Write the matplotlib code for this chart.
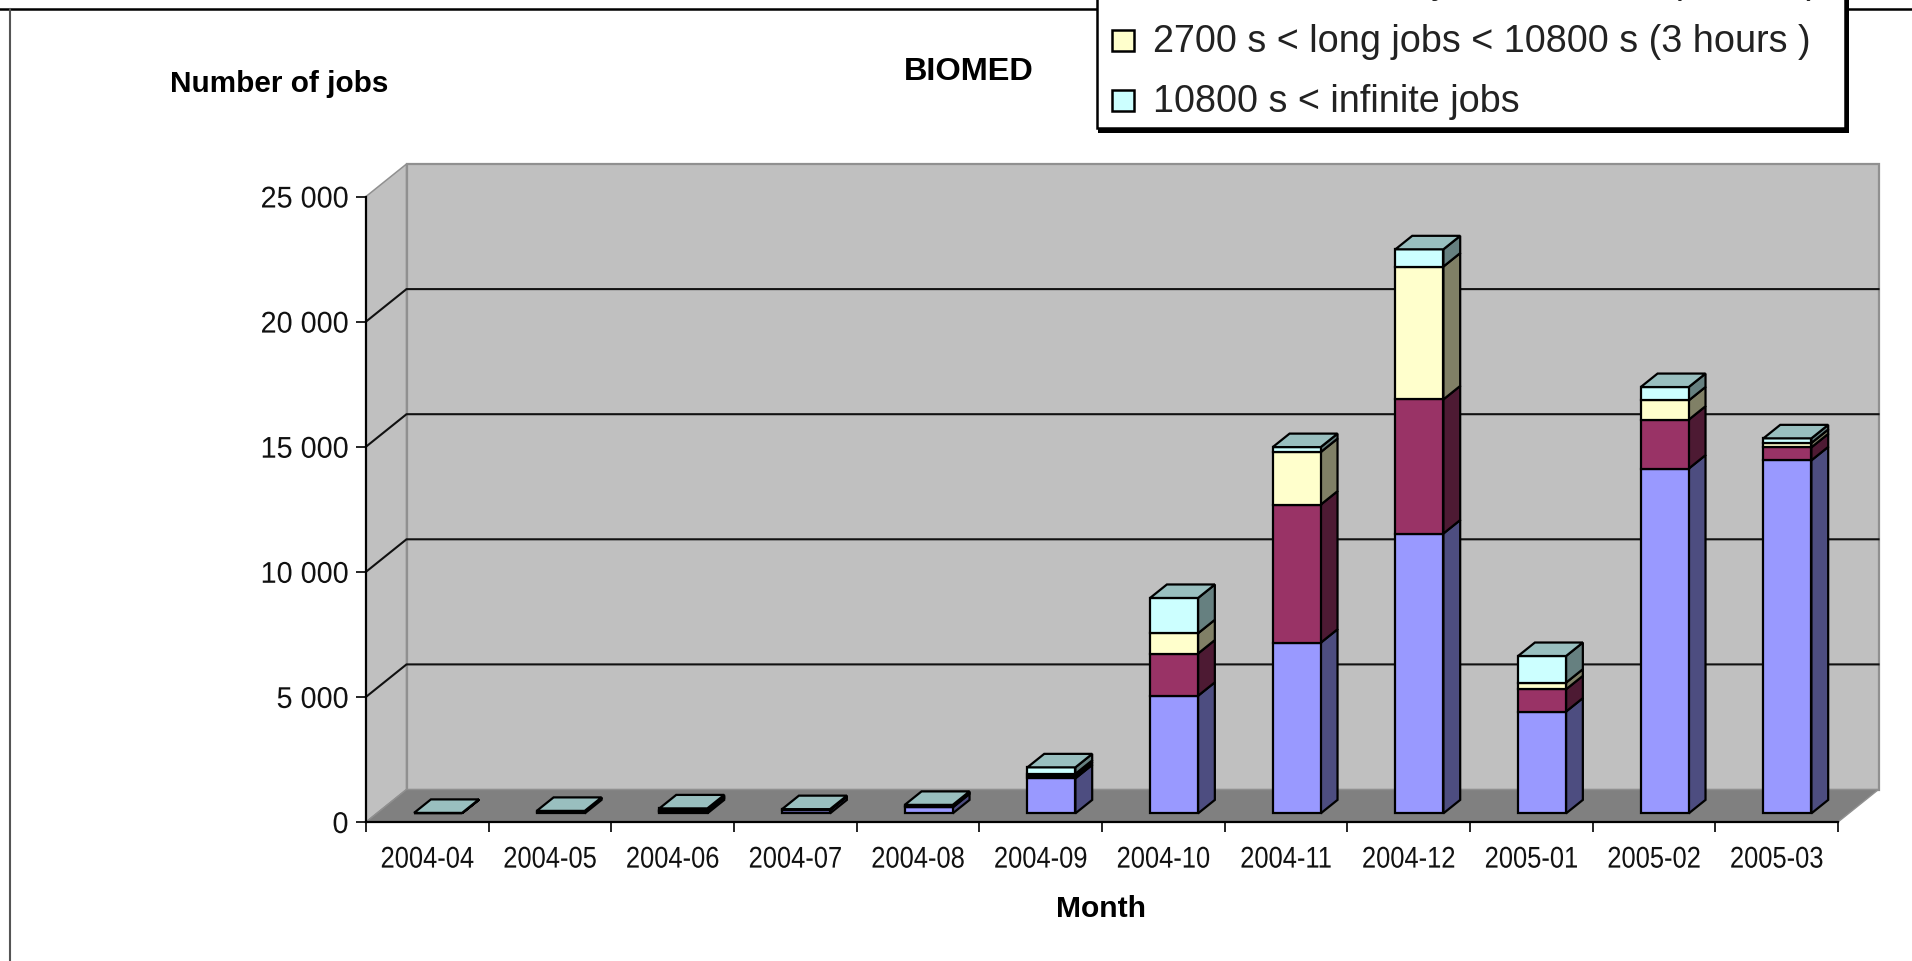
import matplotlib
matplotlib.use("Agg")
import matplotlib.pyplot as plt
from matplotlib.lines import Line2D
from matplotlib.patches import Polygon, Rectangle
from matplotlib.patheffects import AbstractPathEffect
from matplotlib.transforms import Affine2D, IdentityTransform

# Monthly job counts, by duration class
months = ["2004-04", "2004-05", "2004-06", "2004-07", "2004-08", "2004-09",
          "2004-10", "2004-11", "2004-12", "2005-01", "2005-02", "2005-03"]
short_jobs = [10, 60, 70, 130, 240, 1400, 4700, 6820, 11185, 4070, 13780, 14110]
medium_jobs = [5, 15, 40, 10, 30, 100, 1690, 5520, 5360, 890, 1955, 520]
long_jobs = [0, 10, 30, 10, 30, 80, 810, 2100, 5310, 266, 770, 175]
infinite_jobs = [5, 15, 60, 20, 40, 260, 1410, 200, 690, 1064, 535, 185]

y_ticks = [0, 5000, 10000, 15000, 20000, 25000]
y_tick_labels = ["0", "5 000", "10 000", "15 000", "20 000", "25 000"]
legend_rows = [("900 s < medium jobs < 2700 s (45 min )", "#993366"),
               ("2700 s < long jobs < 10800 s (3 hours )", "#FFFFCC"),
               ("10800 s < infinite jobs", "#CCFFFF")]

series = [(short_jobs, "#9999FF", "#4D4D80"),
          (medium_jobs, "#993366", "#4D1A33"),
          (long_jobs, "#FFFFCC", "#808066"),
          (infinite_jobs, "#CCFFFF", "#668080")]

W, H = 1912, 962
DEPTH_X, DEPTH_Y = 40.5, 32.5      # pixel offset of the back wall
BAR_W, BAR_D0, BAR_D1 = 0.391, 0.265, 0.68
SANS = ["Liberation Sans", "DejaVu Sans"]


class HSqueeze(AbstractPathEffect):
    """Condense glyphs horizontally around a fixed display x position."""

    def __init__(self, anchor, factor):
        super().__init__()
        self.anchor, self.factor = anchor, factor

    def draw_path(self, renderer, gc, tpath, affine, rgbFace=None):
        squeeze = Affine2D().translate(-self.anchor, 0).scale(self.factor, 1).translate(self.anchor, 0)
        renderer.draw_path(gc, tpath, affine + squeeze, rgbFace)


fig = plt.figure(figsize=(W / 100, H / 100), dpi=100, facecolor="white")
ax = fig.add_axes([366 / W, (H - 823) / H, 1472 / W, 625.5 / H])
ax.set_xlim(0, 12)
ax.set_ylim(0, 25000)
ax.patch.set_visible(False)
px = IdentityTransform()


def project(x, y, depth=0.0):
    """Axis position plus a depth fraction, in display pixels."""
    sx, sy = ax.transData.transform((x, y))
    return sx + depth * DEPTH_X, sy + depth * DEPTH_Y


def face(points, color, edge="black", lw=1.6, z=3):
    ax.add_patch(Polygon([project(*p) for p in points], closed=True, facecolor=color,
                         edgecolor=edge, linewidth=lw, transform=px, clip_on=False,
                         zorder=z, joinstyle="miter"))


# Walls and floor
face([(0, 0, 0), (0, 0, 1), (0, 25000, 1), (0, 25000, 0)], "#C0C0C0", "#909090", 1.1, 1)
face([(0, 0, 1), (12, 0, 1), (12, 25000, 1), (0, 25000, 1)], "#C0C0C0", "#909090", 1.6, 1)
face([(0, 0, 0), (12, 0, 0), (12, 0, 1), (0, 0, 1)], "#808080", "#909090", 1.0, 1)

# Gridlines along the back and side walls
for v in y_ticks[1:-1]:
    pts = [project(0, v, 0), project(0, v, 1), project(12, v, 1)]
    ax.add_line(Line2D([p[0] for p in pts], [p[1] for p in pts], color="#111111",
                       linewidth=1.5, transform=px, clip_on=False, zorder=2))

# Stacked prisms, nearest faces last
for i in range(len(months)):
    x0 = i + 0.5 - BAR_W / 2
    x1 = i + 0.5 + BAR_W / 2
    bottom = 0
    for values, front, side in series:
        top = bottom + values[i]
        face([(x1, bottom, BAR_D0), (x1, bottom, BAR_D1), (x1, top, BAR_D1), (x1, top, BAR_D0)], side)
        face([(x0, bottom, BAR_D0), (x1, bottom, BAR_D0), (x1, top, BAR_D0), (x0, top, BAR_D0)], front)
        bottom = top
    face([(x0, bottom, BAR_D0), (x1, bottom, BAR_D0), (x1, bottom, BAR_D1), (x0, bottom, BAR_D1)], "#99BFBF")

# Axes, ticks and labels
for name in ("top", "right"):
    ax.spines[name].set_visible(False)
for name in ("left", "bottom"):
    ax.spines[name].set_linewidth(1.6)
    ax.spines[name].set_zorder(6)
ax.set_xticks(range(13))
ax.set_xticklabels([])
ax.set_xticks([i + 0.5 for i in range(12)], months, minor=True, fontsize=21.6, family=SANS)
ax.tick_params(axis="x", which="major", length=7.2, width=1.2, direction="out")
ax.tick_params(axis="x", which="minor", length=0, pad=17, labelcolor="#111111")
ax.set_yticks(y_ticks, y_tick_labels, fontsize=21.6, family=SANS, color="#111111")
ax.tick_params(axis="y", length=7.2, width=1.2, direction="out", pad=5.5)

for i, label in enumerate(ax.get_xticklabels(minor=True)):
    label.set_path_effects([HSqueeze(project(i + 0.5, 0)[0], 0.85)])
for label in ax.get_yticklabels():
    label.set_path_effects([HSqueeze(350, 0.96)])

fig.text(968.5 / W, 1 - 71.5 / H, "BIOMED", fontsize=23.4, fontweight="bold", family=SANS,
         ha="center", va="center")
fig.text(170 / W, 1 - 84 / H, "Number of jobs", fontsize=21.4, fontweight="bold", family=SANS,
         ha="left", va="center")
fig.text(1100.5 / W, 1 - 909.5 / H, "Month", fontsize=21.6, fontweight="bold", family=SANS,
         ha="center", va="center")

# Outer frame of the chart area
fig.add_artist(Line2D([0, 1], [1 - 9.5 / H] * 2, color="black", linewidth=1.8, zorder=4))
fig.add_artist(Line2D([9.5 / W] * 2, [0, 1 - 9.5 / H], color="#555555", linewidth=1.5, zorder=4))


def pixel_rect(x, y, w, h, **kw):
    """Rectangle given by its top-left corner, measured from the top of the figure."""
    fig.add_artist(Rectangle((x, H - y - h), w, h, transform=px, **kw))


# Legend box with its drop shadow, running past the top edge
pixel_rect(1098, -50, 751, 184, facecolor="black", edgecolor="none", zorder=7)
pixel_rect(1097, -50, 748, 179, facecolor="white", edgecolor="black", linewidth=1.8, zorder=8)
row_baselines = [-7, 52, 112]
for (label, color), base in zip(legend_rows, row_baselines):
    pixel_rect(1112, base - 21, 22, 21, facecolor=color, edgecolor="black", linewidth=1.8, zorder=9)
    fig.text(1153 / W, 1 - base / H, label, fontsize=27.2, family=SANS, color="#222222",
             ha="left", va="baseline", zorder=9)

fig.savefig("out.png", dpi=100)
